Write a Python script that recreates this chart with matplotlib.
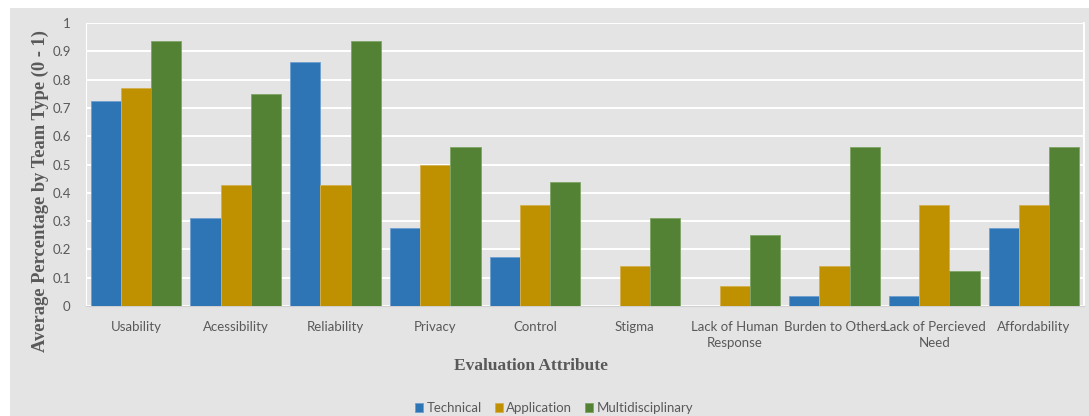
import matplotlib
matplotlib.use("Agg")
import matplotlib.pyplot as plt
import numpy as np
from matplotlib.patches import Rectangle

categories = ["Usability", "Acessibility", "Reliability", "Privacy", "Control",
              "Stigma", "Lack of Human\nResponse", "Burden to Others",
              "Lack of Percieved\nNeed", "Affordability"]
technical = [0.724, 0.310, 0.862, 0.276, 0.172, 0.0, 0.0, 0.0345, 0.0345, 0.276]
application = [0.769, 0.429, 0.429, 0.500, 0.357, 0.143, 0.0714, 0.143, 0.357, 0.357]
multidisciplinary = [0.9375, 0.75, 0.9375, 0.5625, 0.4375, 0.3125, 0.25, 0.5625, 0.125, 0.5625]
series_names = ["Technical", "Application", "Multidisciplinary"]
yticks = [0, 0.1, 0.2, 0.3, 0.4, 0.5, 0.6, 0.7, 0.8, 0.9, 1]
ytick_labels = ["0", "0.1", "0.2", "0.3", "0.4", "0.5", "0.6", "0.7", "0.8", "0.9", "1"]

colors = ["#2E75B6", "#BF9000", "#548235"]
edges = ["#6FA0D0", "#D4B04D", "#7FA465"]
bg = "#E4E4E4"
txt = "#595959"

fig = plt.figure(figsize=(10.89, 4.16), dpi=100)
fig.patch.set_facecolor("white")
fig.patches.append(Rectangle((10 / 1089, 0), 1, 1 - 8 / 416, transform=fig.transFigure,
                             facecolor=bg, edgecolor="none", zorder=-5))

ax = fig.add_axes([86 / 1089, 1 - 306 / 416, (1084 - 86) / 1089, (306 - 23) / 416])
ax.set_facecolor(bg)

x = np.arange(len(categories))
w = 0.302
for i, (vals, name) in enumerate(zip([technical, application, multidisciplinary], series_names)):
    ax.bar(x + (i - 1) * w, vals, width=w, color=colors[i], edgecolor=edges[i],
           linewidth=0.6, label=name, zorder=3)

ax.set_xlim(-0.5, len(categories) - 0.5)
ax.set_ylim(0, 1)
ax.set_yticks(yticks)
ax.set_yticklabels(ytick_labels)
ax.set_xticks(x)
ax.set_xticklabels(categories, linespacing=1.35)
ax.grid(axis="y", color="white", linewidth=1.4, zorder=1)
ax.tick_params(axis="both", length=0, labelsize=9.5, labelcolor=txt)
ax.tick_params(axis="x", pad=11)
ax.tick_params(axis="y", pad=11)
for lab in ax.get_xticklabels() + ax.get_yticklabels():
    lab.set_family("Lato")
ax.spines["top"].set_visible(False)
ax.spines["left"].set_color("white")
ax.spines["right"].set_color("white")
ax.spines["right"].set_linewidth(1.4)
ax.spines["bottom"].set_color("#D0D0D0")

fig.text(40 / 1089, 1 - 191 / 416, "Average Percentage by Team Type (0 - 1)",
         rotation=90, ha="center", va="center", fontsize=13.3, fontweight="bold",
         family="Liberation Serif", color=txt)
fig.text(531 / 1089, 1 - 366 / 416, "Evaluation Attribute", ha="center", va="center",
         fontsize=12.5, fontweight="bold", family="Liberation Serif", color=txt)

leg = fig.legend(loc="center", bbox_to_anchor=(554 / 1089, 1 - 408 / 416), ncol=3,
                 frameon=False, handlelength=0.6, handleheight=0.6,
                 handletextpad=0.25, columnspacing=1.0, prop={"family": "Lato", "size": 9.5})
for t in leg.get_texts():
    t.set_color(txt)

fig.savefig("out.png", dpi=100)
